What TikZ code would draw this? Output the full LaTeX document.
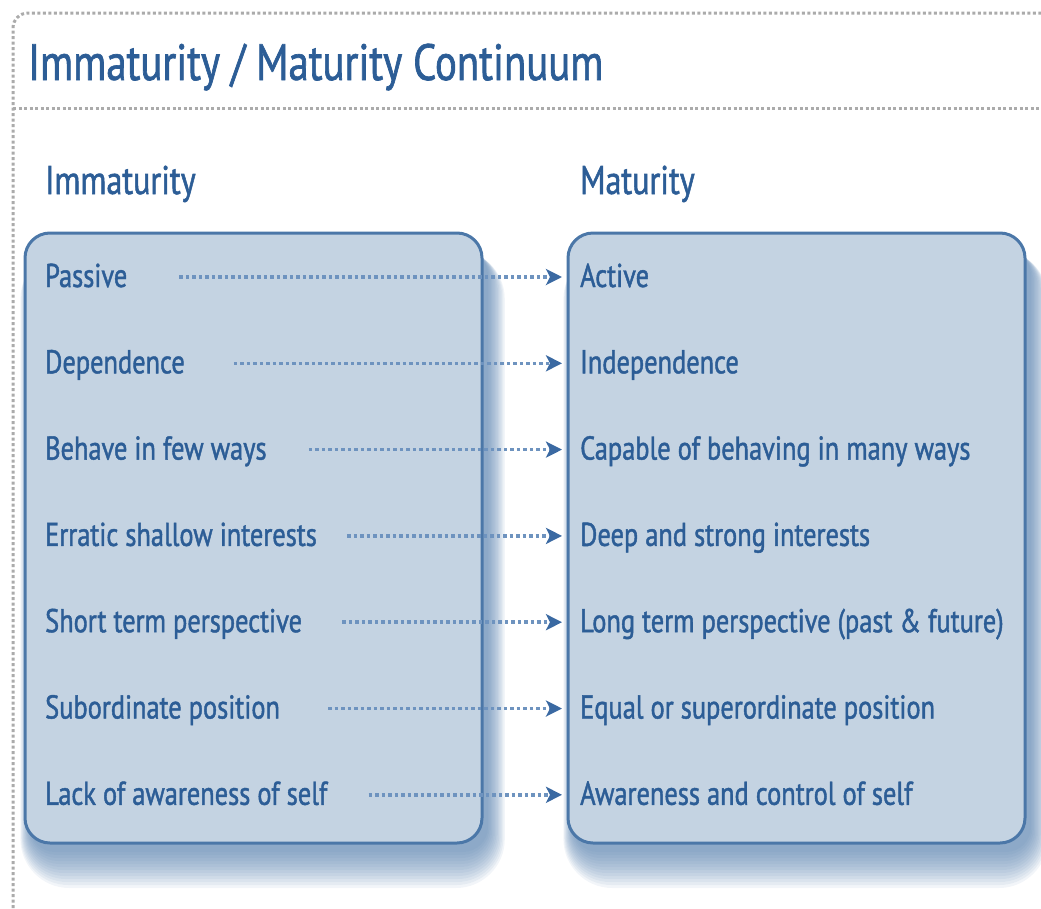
\documentclass[tikz,border=0pt]{standalone}
\usepackage{fontspec}
\setmainfont[FakeStretch=0.8,FakeBold=1.3]{PT Sans}
\usetikzlibrary{arrows.meta}
\definecolor{txt}{HTML}{2C5D96}
\definecolor{boxfill}{HTML}{C4D3E2}
\definecolor{boxline}{HTML}{4B77A8}
\definecolor{dotc}{HTML}{6E93BF}
\definecolor{headc}{HTML}{3A69A2}
\definecolor{framec}{HTML}{ABABAB}
\tikzset{
  panel/.style={draw=boxline, fill=boxfill, line width=3pt, rounded corners=25pt, inner sep=0pt},
  item/.style={text=txt, font=\fontsize{33}{36}\selectfont, anchor=base west, inner sep=0pt},
  head/.style={text=txt, font=\fontsize{40}{44}\selectfont, anchor=base west, inner sep=0pt},
  link/.style={dotc, line width=3.5pt, dash pattern=on 3.5pt off 3pt,
    -{Stealth[length=16pt,width=16pt,inset=4pt,color=headc,fill=headc]}},
}
\begin{document}
\begin{tikzpicture}[x=1pt,y=-1pt]
\useasboundingbox (0,0) rectangle (1041,908);
% outer frame
\draw[framec, line width=3pt, dash pattern=on 3pt off 2.5pt, rounded corners=15pt]
  (13,908) -- (13,13) -- (1041,13);
\draw[framec, line width=3pt, dash pattern=on 3pt off 2.5pt] (13,108) -- (1041,108);
\node[text=txt, font=\fontsize{51}{58}\selectfont, anchor=base west, inner sep=0pt] (title) at (28,80) {Immaturity / Maturity Continuum};
% shadows
\foreach \r in {0,2,...,24}{
  \fill[boxline, opacity=0.075, rounded corners=25pt+\r pt] (30-0.4*\r,250) rectangle (488+0.7*\r,852+1.5*\r);
  \fill[boxline, opacity=0.075, rounded corners=25pt+\r pt] (573-0.4*\r,250) rectangle (1031+0.7*\r,852+1.5*\r);
}
% panels
\node[panel, minimum width=457pt, minimum height=610pt] (lbox) at (253.5,538) {};
\node[panel, minimum width=457pt, minimum height=610pt] (rbox) at (796.5,538) {};
% headings
\node[head] (hl) at (45,194) {Immaturity};
\node[head] (hr) at (580,194) {Maturity};
% items
\foreach \i/\g/\a/\b [count=\n] in {
  0/52/Passive/Active,
  1/49/Dependence/Independence,
  2/42/Behave in few ways/Capable of behaving in many ways,
  3/30/Erratic shallow interests/Deep and strong interests,
  4/40/Short term perspective/Long term perspective (past \& future),
  5/48/Subordinate position/Equal or superordinate position,
  6/41/Lack of awareness of self/Awareness and control of self}{
  \node[item] (l\n) at (45,287+86.3*\i) {\a};
  \node[item] (r\n) at (580,287+86.3*\i) {\b};
  \draw[link] ([xshift=\g pt,yshift=10pt]l\n.base east) -- ([xshift=-18pt,yshift=10pt]r\n.base west);
}
\end{tikzpicture}
\end{document}
